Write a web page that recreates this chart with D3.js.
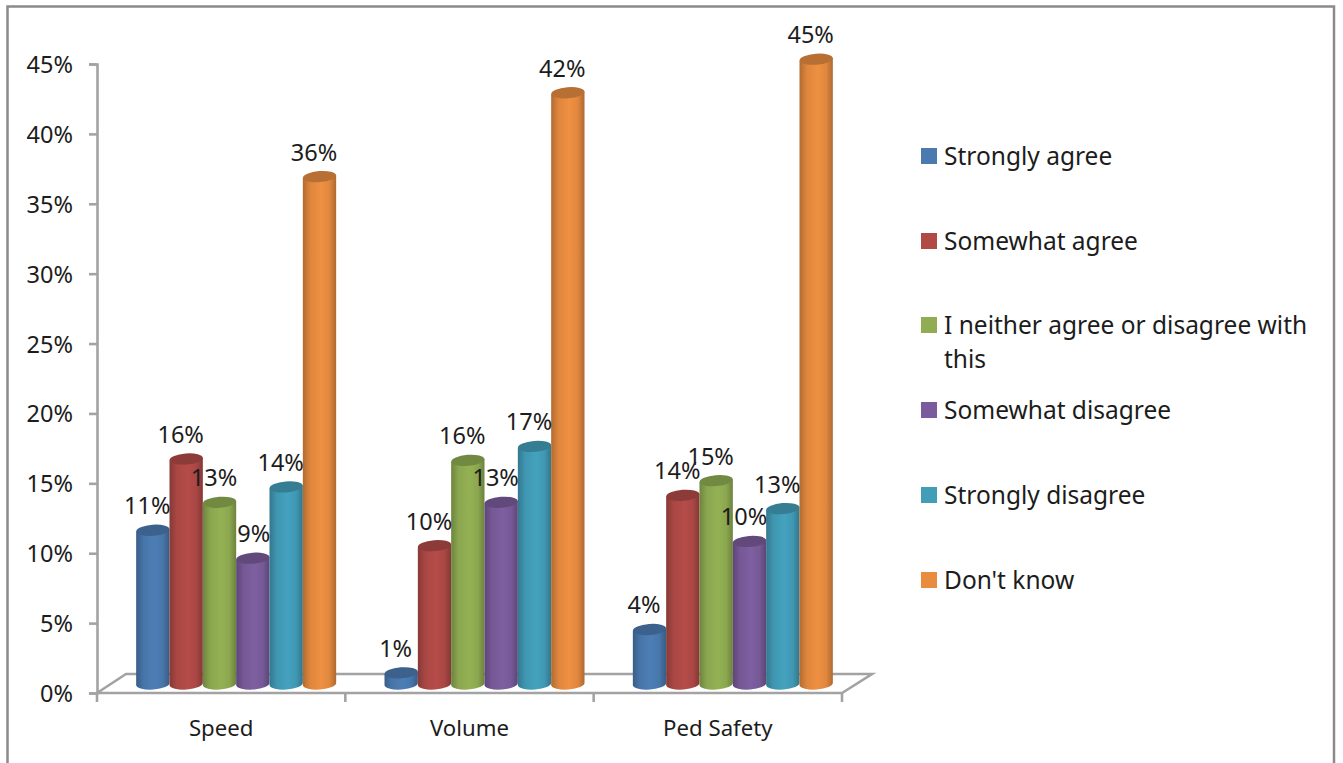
<!DOCTYPE html>
<html>
<head>
<meta charset="utf-8">
<script src="https://cdn.jsdelivr.net/npm/d3@7"></script>
<style>
  html, body { margin: 0; padding: 0; background: #fff; overflow: hidden; }
  text { font-family: "Noto Sans", sans-serif; fill: #1c1c1c; }
</style>
</head>
<body>
<svg id="chart" width="1343" height="763"></svg>
<script>
const categories = ["Speed", "Volume", "Ped Safety"];
const seriesNames = ["Strongly agree", "Somewhat agree", "I neither agree or disagree with this", "Somewhat disagree", "Strongly disagree", "Don't know"];
const seriesColors = ["#4a7ab0", "#b04a47", "#90ad52", "#7a5c9c", "#429db9", "#e88c40"];
const speedValues = [0.110, 0.161, 0.130, 0.090, 0.141, 0.363];
const volumeValues = [0.008, 0.099, 0.160, 0.130, 0.170, 0.423];
const pedSafetyValues = [0.039, 0.135, 0.1455, 0.102, 0.1255, 0.447];
const yTicks = [0, 0.05, 0.10, 0.15, 0.20, 0.25, 0.30, 0.35, 0.40, 0.45];

const rows = [speedValues, volumeValues, pedSafetyValues];
const svg = d3.select("#chart");
const pct = d3.format(".0%");

// Plot geometry
const plot = { left: 97, right: 842, top: 64, bottom: 693 };
const depth = { x: 29, y: 19 };     // how far the floor recedes
const barShift = { x: 15, y: -9 };  // bars stand in the middle of the floor

const x = d3.scaleBand().domain(categories).range([plot.left, plot.right]);
const xInner = d3.scaleBand().domain(seriesNames).range([0, 200]);
const y = d3.scaleLinear().domain([0, 0.45]).range([plot.bottom, plot.top]);
const groupStart = c => x(c) + (x.bandwidth() - xInner.range()[1]) / 2 + barShift.x;

// Frame around the chart area (open at the bottom)
svg.append("path")
  .attr("d", "M7.5,763 V6.5 H1334 V763")
  .attr("fill", "none").attr("stroke", "#8a8a8a").attr("stroke-width", 2.5);

// Cylinder shading, one horizontal gradient for each series
const defs = svg.append("defs");
seriesColors.forEach((col, i) => {
  const g = defs.append("linearGradient").attr("id", "cyl" + i)
    .attr("x1", 0).attr("x2", 1).attr("y1", 0).attr("y2", 0);
  const base = d3.color(col);
  [[0, base.darker(0.75)], [0.22, base.darker(0.12)], [0.55, base.brighter(0.08)], [0.8, base.darker(0.1)], [1, base.darker(0.8)]]
    .forEach(([o, c]) => g.append("stop").attr("offset", o).attr("stop-color", c.formatHex()));
});

// Floor of the 3-D plot
const axisColor = "#a3a3a3";
const floor = svg.append("g").attr("fill", "none").attr("stroke", axisColor).attr("stroke-width", 2.6);
floor.append("path").attr("d", d3.line()([
  [plot.left, plot.bottom],
  [plot.left + depth.x, plot.bottom - depth.y],
  [plot.right + depth.x + 1, plot.bottom - depth.y],
  [plot.right, plot.bottom],
  [plot.left, plot.bottom]
]));

// Value axis
const yAxis = svg.append("g").attr("transform", `translate(${plot.left},0)`)
  .call(d3.axisLeft(y).tickValues(yTicks).tickFormat(pct).tickSize(8).tickPadding(16));
yAxis.selectAll("path, line").attr("stroke", axisColor).attr("stroke-width", 2.6);
yAxis.selectAll("text").attr("font-size", 23.5).attr("fill", "#1c1c1c").attr("dy", "0.36em");

// Category axis: ticks sit on the band edges, labels at the band centres
const xEdges = categories.map(c => x(c)).concat(plot.right);
svg.append("g").selectAll("line").data(xEdges).join("line")
  .attr("x1", d => d).attr("x2", d => d)
  .attr("y1", plot.bottom).attr("y2", plot.bottom + 9)
  .attr("stroke", axisColor).attr("stroke-width", 2.6);
svg.append("g").selectAll("text").data(categories).join("text")
  .attr("x", c => x(c) + x.bandwidth() / 2)
  .attr("y", plot.bottom + 43)
  .attr("text-anchor", "middle")
  .attr("font-size", 22.2)
  .text(c => c);

// Cylinders
const marks = categories.flatMap((c, ci) => seriesNames.map((s, si) => ({ c, s, si, v: rows[ci][si] })));
const rx = xInner.bandwidth() / 2;
const ry = 5.5;
const tilt = 1.3;
const bars = svg.append("g").selectAll("g").data(marks).join("g")
  .attr("transform", d => `translate(${groupStart(d.c) + xInner(d.s)},0)`);

bars.append("path")
  .attr("fill", d => `url(#cyl${d.si})`)
  .attr("d", d => {
    const top = y(d.v) + barShift.y, base = y(0) + barShift.y, w = rx * 2;
    return `M0,${top + tilt} V${base + tilt} A${rx},${ry} -4 0 0 ${w},${base - tilt} V${top - tilt} Z`;
  });
bars.append("ellipse")
  .attr("cx", rx).attr("cy", d => y(d.v) + barShift.y)
  .attr("rx", rx).attr("ry", ry)
  .attr("transform", d => `rotate(-4.5 ${rx} ${y(d.v) + barShift.y})`)
  .attr("fill", d => d3.color(seriesColors[d.si]).darker(0.65).formatHex());

// Value labels, drawn above every cylinder
svg.append("g").selectAll("text").data(marks).join("text")
  .attr("x", d => groupStart(d.c) + xInner(d.s) + rx + (d.c === "Speed" && d.si === 3 ? 1 : -5.5))
  .attr("y", d => y(d.v) + barShift.y - 16)
  .attr("text-anchor", "middle")
  .attr("font-size", 23.5)
  .text(d => pct(d.v));

// Legend
const legendRows = [
  { s: seriesNames[0], at: 156, lines: ["Strongly agree"] },
  { s: seriesNames[1], at: 241, lines: ["Somewhat agree"] },
  { s: seriesNames[2], at: 325, lines: ["I neither agree or disagree with", "this"] },
  { s: seriesNames[3], at: 410, lines: ["Somewhat disagree"] },
  { s: seriesNames[4], at: 495, lines: ["Strongly disagree"] },
  { s: seriesNames[5], at: 580, lines: ["Don't know"] }
];
const legend = svg.append("g").selectAll("g").data(legendRows).join("g")
  .attr("transform", d => `translate(921,${d.at})`);
legend.append("rect")
  .attr("x", 0).attr("y", -8).attr("width", 16).attr("height", 16)
  .attr("fill", (d, i) => seriesColors[i]);
legend.selectAll("text").data(d => d.lines).join("text")
  .attr("x", 23).attr("y", (d, i) => 9 + i * 34)
  .attr("font-size", 24.5)
  .text(d => d);
</script>
</body>
</html>
